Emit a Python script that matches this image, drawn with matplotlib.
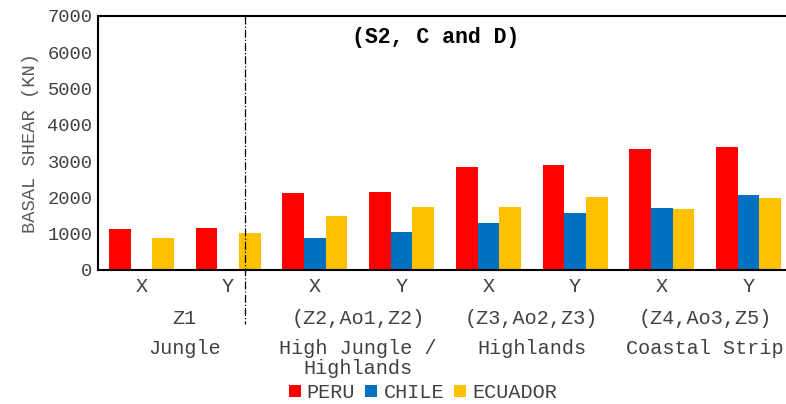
import numpy as np
import matplotlib.pyplot as plt

# Data
directions = ['X', 'Y', 'X', 'Y', 'X', 'Y', 'X', 'Y']
zones = ['Z1', '(Z2,Ao1,Z2)', '(Z3,Ao2,Z3)', '(Z4,Ao3,Z5)']
regions = ['Jungle', 'High Jungle /\nHighlands', 'Highlands', 'Coastal Strip']
peru = [1130, 1160, 2120, 2150, 2840, 2890, 3330, 3390]
chile = [0, 0, 880, 1050, 1290, 1570, 1710, 2070]
ecuador = [880, 1020, 1500, 1740, 1740, 2010, 1680, 1980]

plt.rcParams['font.family'] = ['Liberation Mono', 'DejaVu Sans']
txt_color = '#404040'
fs = 13.5
cat_fs = 14.5

fig = plt.figure(figsize=(7.86, 4.04), dpi=100)
ax = fig.add_axes([98 / 786, 134 / 404, 694 / 786, 254 / 404])

x = np.arange(len(directions))
w = 0.25
ax.bar(x - w, peru, w, color='#FF0000', label='PERU')
ax.bar(x, chile, w, color='#0070C0', label='CHILE')
ax.bar(x + w, ecuador, w, color='#FFC000', label='ECUADOR')

ax.set_xlim(-0.5, len(directions) - 0.5)
ax.set_ylim(0, 7000)
ax.set_yticks(range(0, 7001, 1000))
ax.tick_params(axis='y', length=0, labelsize=fs, labelcolor=txt_color, pad=4)
ax.set_xticks([])
ax.spines['right'].set_visible(False)
for s in ['left', 'top', 'bottom']:
    ax.spines[s].set_linewidth(1.5)
ax.set_ylabel('BASAL SHEAR (KN)', fontsize=fs, color='#595959', labelpad=6)

# multi-level category labels
tr = ax.get_xaxis_transform()
def ay(ypix):
    return (270 - ypix) / 254

for i, d in enumerate(directions):
    ax.text(i, ay(286), d, transform=tr, ha='center', va='center',
            fontsize=cat_fs, color=txt_color)
for j, (z, r) in enumerate(zip(zones, regions)):
    xc = 2 * j + 0.5
    ax.text(xc, ay(318), z, transform=tr, ha='center', va='center',
            fontsize=cat_fs, color=txt_color)
    ax.text(xc, ay(339), r, transform=tr, ha='center', va='top',
            fontsize=cat_fs, color=txt_color, linespacing=1.1)

# separator between Jungle and the other zones
ax.plot([1.2, 1.2], [1, ay(324)], transform=tr, color='black',
        linestyle='-.', linewidth=0.9, clip_on=False)

ax.text(0.486, ay(37), '(S2, C and D)', transform=ax.transAxes,
        ha='center', va='center', fontsize=15.5, fontweight='bold', color='black')

fig.legend(loc='center', bbox_to_anchor=(0.538, 0.028), ncol=3, frameon=False,
           fontsize=cat_fs, handlelength=0.6, handleheight=0.6, handletextpad=0.3,
           columnspacing=0.5, labelcolor=txt_color, borderaxespad=0)

fig.savefig('out.png', dpi=100)
